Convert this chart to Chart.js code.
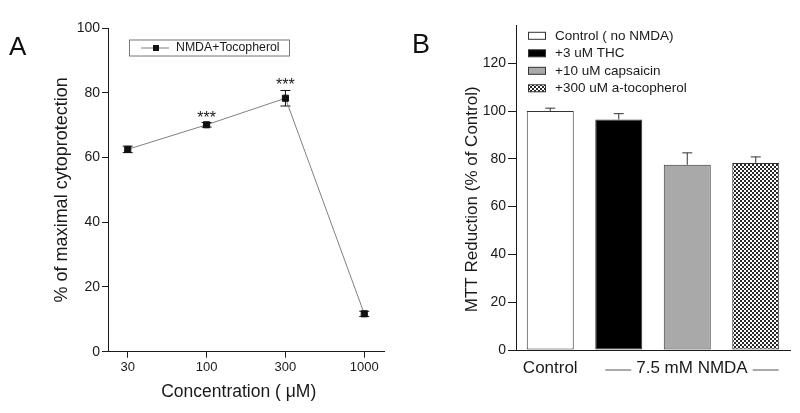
<!DOCTYPE html>
<html>
<head>
<meta charset="utf-8">
<script src="https://cdn.jsdelivr.net/npm/chart.js@4.4.1/dist/chart.umd.min.js"></script>
<style>
  body { margin: 0; background: #fff; }
  #wrap { position: relative; width: 800px; height: 413px; }
  canvas { position: absolute; top: 0; }
  #chartA { left: 0; }
  #chartB { left: 400px; }
  .panel { position: absolute; font-family: "Liberation Sans", Arial, sans-serif; line-height: 1; color: #111; }
</style>
</head>
<body>
<div id="wrap">
  <canvas id="chartA" width="400" height="413"></canvas>
  <canvas id="chartB" width="400" height="413"></canvas>
  <div class="panel" style="left:9px; top:33px; font-size:26px;">A</div>
  <div class="panel" style="left:412px; top:31px; font-size:27px;">B</div>
</div>
<script>
// panel A - dose response to tocopherol
const concLabels = ['30', '100', '300', '1000'];
const protection = [62.5, 70.1, 78.3, 11.7];
const protectionErr = [1.0, 0.7, 2.4, 0.8];
const signif = ['', '***', '***', ''];
const yTicksA = [0, 20, 40, 60, 80, 100];

// panel B - MTT reduction
const groups = ['Control ( no NMDA)', '+3 uM THC', '+10 uM capsaicin', '+300 uM a-tocopherol'];
const mtt = [100, 96.5, 77.5, 78.3];
const mttErr = [1.2, 2.4, 5.0, 2.5];
const xLabelsB = ['Control', '', '  7.5 mM NMDA', ''];
const yTicksB = [0, 20, 40, 60, 80, 100, 120];

const ink = '#1a1a1a';
const fam = '"Liberation Sans", Arial, sans-serif';
Chart.defaults.font.family = fam;
Chart.defaults.color = ink;

// error bars, stars and the boxed legend for A
const extrasA = {
  id: 'extrasA',
  beforeDatasetsDraw(chart) {
    const { ctx, scales: { x, y } } = chart;
    ctx.save();
    ctx.strokeStyle = '#111';
    ctx.lineWidth = 1;
    protection.forEach((v, i) => {
      const px = x.getPixelForValue(i);
      const top = y.getPixelForValue(v + protectionErr[i]);
      const bot = y.getPixelForValue(v - protectionErr[i]);
      ctx.beginPath();
      ctx.moveTo(px, top); ctx.lineTo(px, bot);
      ctx.moveTo(px - 5, top); ctx.lineTo(px + 5, top);
      ctx.moveTo(px - 5, bot); ctx.lineTo(px + 5, bot);
      ctx.stroke();
    });
    ctx.restore();
  },
  afterDatasetsDraw(chart) {
    const { ctx, chartArea, scales: { x, y } } = chart;
    ctx.save();
    ctx.fillStyle = ink;
    ctx.font = '16px ' + fam;
    ctx.textAlign = 'center';
    ctx.textBaseline = 'alphabetic';
    signif.forEach((s, i) => {
      if (!s) return;
      ctx.fillText(s, x.getPixelForValue(i), y.getPixelForValue(protection[i] + protectionErr[i]));
    });

    // legend box
    const lx = chartArea.left + 21, ly = chartArea.top + 11.5;
    const cy = ly + 8.5;
    ctx.strokeStyle = '#777';
    ctx.lineWidth = 1;
    ctx.strokeRect(lx + 0.5, ly + 0.5, 160, 16);
    ctx.strokeStyle = '#808080';
    ctx.beginPath();
    ctx.moveTo(lx + 12, cy); ctx.lineTo(lx + 40, cy);
    ctx.stroke();
    ctx.fillStyle = '#111';
    ctx.fillRect(lx + 24, cy - 3, 6, 6);
    ctx.fillStyle = ink;
    ctx.font = '12.3px ' + fam;
    ctx.textAlign = 'left';
    ctx.textBaseline = 'middle';
    ctx.fillText(chart.data.datasets[0].label, lx + 47, cy);
    ctx.restore();
  }
};

new Chart(document.getElementById('chartA'), {
  type: 'line',
  data: {
    datasets: [{
      label: 'NMDA+Tocopherol',
      data: protection.map((v, i) => ({ x: i, y: v })),
      borderColor: '#808080',
      borderWidth: 1,
      pointStyle: 'rect',
      pointRadius: 4.3,
      pointBackgroundColor: '#111',
      pointBorderColor: '#111',
      pointBorderWidth: 1,
      tension: 0
    }]
  },
  options: {
    responsive: false,
    animation: false,
    events: [],
    layout: { padding: { left: 0, top: 28, right: 16, bottom: 0 } },
    plugins: { legend: { display: false }, tooltip: { enabled: false } },
    scales: {
      x: {
        type: 'linear',
        min: -0.25,
        max: 3.25,
        afterBuildTicks: s => { s.ticks = concLabels.map((_, i) => ({ value: i })); },
        afterFit: s => { s.height = 61.3; },
        grid: { drawOnChartArea: false, tickLength: 6, color: ink },
        border: { color: ink },
        ticks: { callback: v => concLabels[v], font: { size: 13 }, padding: 2, maxRotation: 0, color: ink },
        title: { display: true, text: 'Concentration ( μM)   ', font: { size: 17.5 }, padding: { top: 0, bottom: 10.8 }, color: ink }
      },
      y: {
        min: 0,
        max: 100,
        afterBuildTicks: s => { s.ticks = yTicksA.map(v => ({ value: v })); },
        afterFit: s => { s.width = 108; },
        grid: { drawOnChartArea: false, tickLength: 6, color: ink },
        border: { color: ink },
        ticks: { font: { size: 14 }, padding: 2, color: ink },
        title: { display: true, text: '% of maximal cytoprotection', font: { size: 18 }, padding: { top: 51, bottom: 0 }, color: ink }
      }
    }
  },
  plugins: [extrasA]
});

// panel B
const canvasB = document.getElementById('chartB');
const ctxB = canvasB.getContext('2d');
const tile = document.createElement('canvas');
tile.width = 4; tile.height = 4;
const tg = tile.getContext('2d');
tg.fillStyle = '#fff'; tg.fillRect(0, 0, 4, 4);
tg.fillStyle = '#2a2a2a'; tg.fillRect(0, 0, 2, 2); tg.fillRect(2, 2, 2, 2);
const barFills = ['#ffffff', '#000000', '#a9a9a9', ctxB.createPattern(tile, 'repeat')];

const extrasB = {
  id: 'extrasB',
  afterDatasetsDraw(chart) {
    const { ctx, chartArea, scales: { x, y } } = chart;
    ctx.save();
    ctx.strokeStyle = '#333';
    ctx.lineWidth = 1;
    mtt.forEach((v, i) => {
      const px = x.getPixelForValue(i);
      const base = y.getPixelForValue(v);
      const top = y.getPixelForValue(v + mttErr[i]);
      ctx.beginPath();
      ctx.moveTo(px, base); ctx.lineTo(px, top);
      ctx.moveTo(px - 5, top); ctx.lineTo(px + 5, top);
      ctx.stroke();
    });

    // legend
    const lx = chartArea.left + 12;
    ctx.font = '13.5px ' + fam;
    ctx.textAlign = 'left';
    ctx.textBaseline = 'middle';
    groups.forEach((g, i) => {
      const cy = chartArea.top + 10.8 + i * 17.5;
      ctx.fillStyle = barFills[i];
      ctx.fillRect(lx, cy - 3.5, 17, 7);
      ctx.strokeStyle = '#333';
      ctx.strokeRect(lx + 0.5, cy - 3.5, 17, 7);
      ctx.fillStyle = ink;
      ctx.fillText(g, lx + 27, cy);
    });

    // bracket lines around the NMDA group label
    ctx.font = '17px ' + fam;
    const lab = xLabelsB[2];
    const full = ctx.measureText(lab).width;
    const vis = ctx.measureText(lab.trim()).width;
    const cx = x.getPixelForValue(2) + (full - vis) / 2;
    const ly = chartArea.bottom + 20;
    ctx.strokeStyle = '#555';
    ctx.beginPath();
    ctx.moveTo(cx - vis / 2 - 31, ly); ctx.lineTo(cx - vis / 2 - 5, ly);
    ctx.moveTo(cx + vis / 2 + 5, ly); ctx.lineTo(cx + vis / 2 + 31, ly);
    ctx.stroke();
    ctx.restore();
  }
};

new Chart(canvasB, {
  type: 'bar',
  data: {
    labels: xLabelsB,
    datasets: [{
      data: mtt,
      backgroundColor: barFills,
      borderColor: '#333',
      borderWidth: 1,
      borderSkipped: false,
      barPercentage: 0.686,
      categoryPercentage: 1
    }]
  },
  options: {
    responsive: false,
    animation: false,
    events: [],
    layout: { padding: { left: 0, top: 25, right: 10, bottom: 0 } },
    plugins: { legend: { display: false }, tooltip: { enabled: false } },
    scales: {
      x: {
        afterFit: s => { s.height = 63; },
        grid: { display: false, drawTicks: false },
        border: { color: ink },
        ticks: { font: { size: 17 }, padding: 8, maxRotation: 0, autoSkip: false, color: ink }
      },
      y: {
        min: 0,
        max: 136,
        afterBuildTicks: s => { s.ticks = yTicksB.map(v => ({ value: v })); },
        afterFit: s => { s.width = 116; },
        grid: { drawOnChartArea: false, tickLength: 8, color: ink },
        border: { color: ink },
        ticks: { font: { size: 14 }, padding: 2, color: ink },
        title: { display: true, text: 'MTT Reduction (% of Control)     ', font: { size: 17 }, padding: { top: 61.8, bottom: 0 }, color: ink }
      }
    }
  },
  plugins: [extrasB]
});
</script>
</body>
</html>
